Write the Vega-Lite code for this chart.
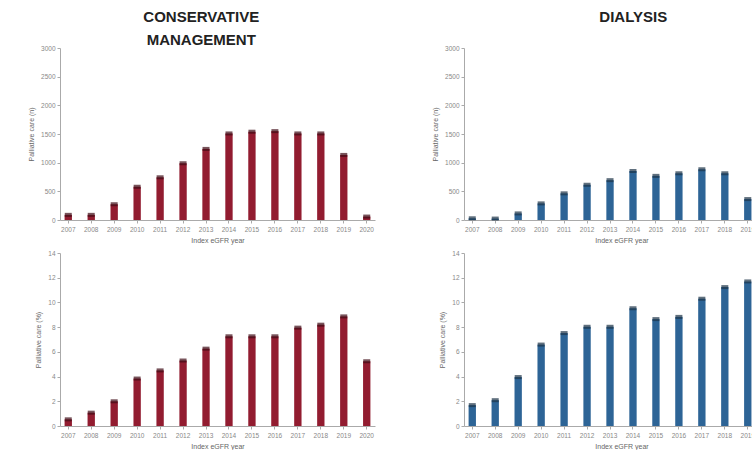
{
  "$schema": "https://vega.github.io/schema/vega-lite/v6.json",
  "background": "white",
  "padding": {"left": 27, "top": 10, "right": 0, "bottom": 0},
  "config": {
    "view": {"stroke": null},
    "font": "Liberation Sans",
    "axis": {
      "grid": false,
      "labelFontSize": 6.5,
      "labelColor": "#888888",
      "titleFontSize": 7,
      "titleFontWeight": "normal",
      "titleColor": "#666666",
      "domainColor": "#aaaaaa",
      "tickColor": "#aaaaaa",
      "tickSize": 3
    },
    "axisX": {"labelAngle": 0, "labelOverlap": false, "labelPadding": 3, "titlePadding": 4},
    "axisY": {"titlePadding": 6, "format": "d"},
    "title": {"fontSize": 15, "fontWeight": "bold", "color": "#222222", "lineHeight": 23, "anchor": "middle", "offset": -3}
  },
  "datasets": {
    "cm": [
      {"year": "2007", "n": 90, "pct": 0.54},
      {"year": "2008", "n": 90, "pct": 1.08},
      {"year": "2009", "n": 275, "pct": 2.0},
      {"year": "2010", "n": 580, "pct": 3.84},
      {"year": "2011", "n": 745, "pct": 4.5},
      {"year": "2012", "n": 990, "pct": 5.3},
      {"year": "2013", "n": 1240, "pct": 6.26},
      {"year": "2014", "n": 1510, "pct": 7.26},
      {"year": "2015", "n": 1540, "pct": 7.26},
      {"year": "2016", "n": 1550, "pct": 7.26},
      {"year": "2017", "n": 1510, "pct": 7.96},
      {"year": "2018", "n": 1510, "pct": 8.2},
      {"year": "2019", "n": 1135, "pct": 8.87},
      {"year": "2020", "n": 60, "pct": 5.24}
    ],
    "dia": [
      {"year": "2007", "n": 30, "pct": 1.69},
      {"year": "2008", "n": 25, "pct": 2.09},
      {"year": "2009", "n": 115, "pct": 3.96},
      {"year": "2010", "n": 290, "pct": 6.59},
      {"year": "2011", "n": 465, "pct": 7.52},
      {"year": "2012", "n": 615, "pct": 8.03},
      {"year": "2013", "n": 695, "pct": 8.03},
      {"year": "2014", "n": 855, "pct": 9.53},
      {"year": "2015", "n": 770, "pct": 8.65},
      {"year": "2016", "n": 815, "pct": 8.83},
      {"year": "2017", "n": 885, "pct": 10.3},
      {"year": "2018", "n": 815, "pct": 11.24},
      {"year": "2019", "n": 365, "pct": 11.7},
      {"year": "2020", "n": 30, "pct": 6.0}
    ]
  },
  "spacing": 56,
  "hconcat": [
    {
      "title": {"text": ["CONSERVATIVE", "MANAGEMENT"]},
      "spacing": 6,
      "vconcat": [
        {
          "data": {"name": "cm"},
          "width": 315,
          "height": 172,
          "encoding": {
            "x": {"field": "year", "type": "ordinal", "title": "Index eGFR year", "scale": {"paddingInner": 0.68, "paddingOuter": 0.2}},
            "y": {"field": "n", "type": "quantitative", "title": "Palliative care (n)", "scale": {"domain": [0, 3000]}, "axis": {"values": [0, 500, 1000, 1500, 2000, 2500, 3000]}}
          },
          "layer": [
            {"mark": {"type": "bar", "color": "#921C30"}},
            {"mark": {"type": "tick", "color": "#3E0C16", "thickness": 4, "size": 7}}
          ]
        },
        {
          "data": {"name": "cm"},
          "width": 315,
          "height": 173,
          "encoding": {
            "x": {"field": "year", "type": "ordinal", "title": "Index eGFR year", "scale": {"paddingInner": 0.68, "paddingOuter": 0.2}},
            "y": {"field": "pct", "type": "quantitative", "title": "Palliative care (%)", "scale": {"domain": [0, 14]}, "axis": {"values": [0, 2, 4, 6, 8, 10, 12, 14]}}
          },
          "layer": [
            {"mark": {"type": "bar", "color": "#921C30"}},
            {"mark": {"type": "tick", "color": "#3E0C16", "thickness": 4, "size": 7}}
          ]
        }
      ]
    },
    {
      "title": {"text": ["DIALYSIS", " "], "dx": 28},
      "spacing": 6,
      "vconcat": [
        {
          "data": {"name": "dia"},
          "width": 315,
          "height": 172,
          "encoding": {
            "x": {"field": "year", "type": "ordinal", "title": "Index eGFR year", "scale": {"paddingInner": 0.68, "paddingOuter": 0.2}},
            "y": {"field": "n", "type": "quantitative", "title": "Palliative care (n)", "scale": {"domain": [0, 3000]}, "axis": {"values": [0, 500, 1000, 1500, 2000, 2500, 3000]}}
          },
          "layer": [
            {"mark": {"type": "bar", "color": "#2D6496"}},
            {"mark": {"type": "tick", "color": "#1C3347", "thickness": 4, "size": 7}}
          ]
        },
        {
          "data": {"name": "dia"},
          "width": 315,
          "height": 173,
          "encoding": {
            "x": {"field": "year", "type": "ordinal", "title": "Index eGFR year", "scale": {"paddingInner": 0.68, "paddingOuter": 0.2}},
            "y": {"field": "pct", "type": "quantitative", "title": "Palliative care (%)", "scale": {"domain": [0, 14]}, "axis": {"values": [0, 2, 4, 6, 8, 10, 12, 14]}}
          },
          "layer": [
            {"mark": {"type": "bar", "color": "#2D6496"}},
            {"mark": {"type": "tick", "color": "#1C3347", "thickness": 4, "size": 7}}
          ]
        }
      ]
    }
  ]
}
